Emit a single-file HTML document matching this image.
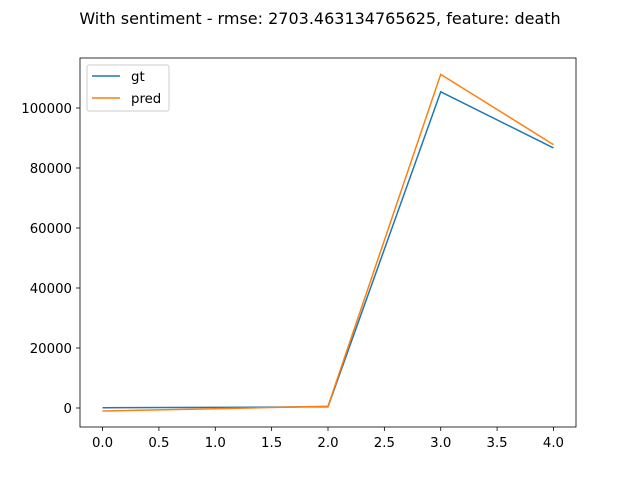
<!DOCTYPE html>
<html><head><meta charset="utf-8"><style>
body{margin:0;background:#fff;}
svg{font-family:"DejaVu Sans","Liberation Sans",sans-serif;}
</style></head><body>
<svg id="chart" width="640" height="480" xmlns="http://www.w3.org/2000/svg">
<rect width="640" height="480" fill="#fff"/>
<text x="320" y="24" text-anchor="middle" font-size="16" fill="#000">With sentiment - rmse: 2703.463134765625, feature: death</text>
<g id="plot"></g>
</svg>
<script>
const xValues=[0,1,2,3,4];
const gtValues=[100,200,400,105400,86700];
const predValues=[-1000,-250,600,111200,87800];
const xTicks=[0,0.5,1,1.5,2,2.5,3,3.5,4];
const xTickLabels=["0.0","0.5","1.0","1.5","2.0","2.5","3.0","3.5","4.0"];
const yTicks=[0,20000,40000,60000,80000,100000];
const yTickLabels=["0","20000","40000","60000","80000","100000"];
const L=80,R=576,T=58,B=427;
const xmin=-0.2,xmax=4.2,ymin=-6333,ymax=116667;
const sx=v=>L+(v-xmin)/(xmax-xmin)*(R-L);
const sy=v=>B-(v-ymin)/(ymax-ymin)*(B-T);
const ns="http://www.w3.org/2000/svg";
const g=document.getElementById('plot');
function mk(t,a){const e=document.createElementNS(ns,t);for(const k in a)e.setAttribute(k,a[k]);g.appendChild(e);return e;}
xTicks.forEach((v,i)=>{
 const l=mk('line',{x1:sx(v),x2:sx(v),y1:B,y2:B+4,stroke:'#000','stroke-width':0.8});
 
 
 const t=mk('text',{x:sx(v),y:B+20,'text-anchor':'middle','font-size':13.3});
 t.textContent=xTickLabels[i];
 
 
});
yTicks.forEach((v,i)=>{
 const l=mk('line',{x1:L-4,x2:L,y1:sy(v),y2:sy(v),stroke:'#000','stroke-width':0.8});
 
 
 const t=mk('text',{x:L-8,y:sy(v)+5,'text-anchor':'end','font-size':13.3});
 t.textContent=yTickLabels[i];
 
 
});
function line(vals,color,name){
 const p=mk('polyline',{points:vals.map((v,i)=>sx(xValues[i])+','+sy(v)).join(' '),fill:'none',stroke:color,'stroke-width':1.5});
 
 
}
line(gtValues,'#1f77b4','gt-line');
line(predValues,'#ff7f0e','pred-line');
const f=mk('rect',{x:L,y:T,width:R-L,height:B-T,fill:'none',stroke:'#000','stroke-width':0.8});


const lg=mk('rect',{x:87,y:65,width:82,height:46,fill:'#fff',stroke:'#ccc',rx:2});


[['gt','#1f77b4',76],['pred','#ff7f0e',98]].forEach(([n,c,y])=>{
 const l=mk('line',{x1:92,x2:120,y1:y,y2:y,stroke:c,'stroke-width':1.5});
 
 
 const t=mk('text',{x:131,y:y+5,'font-size':13.3});
 t.textContent=n;
 
 
});
</script>
</body></html>
